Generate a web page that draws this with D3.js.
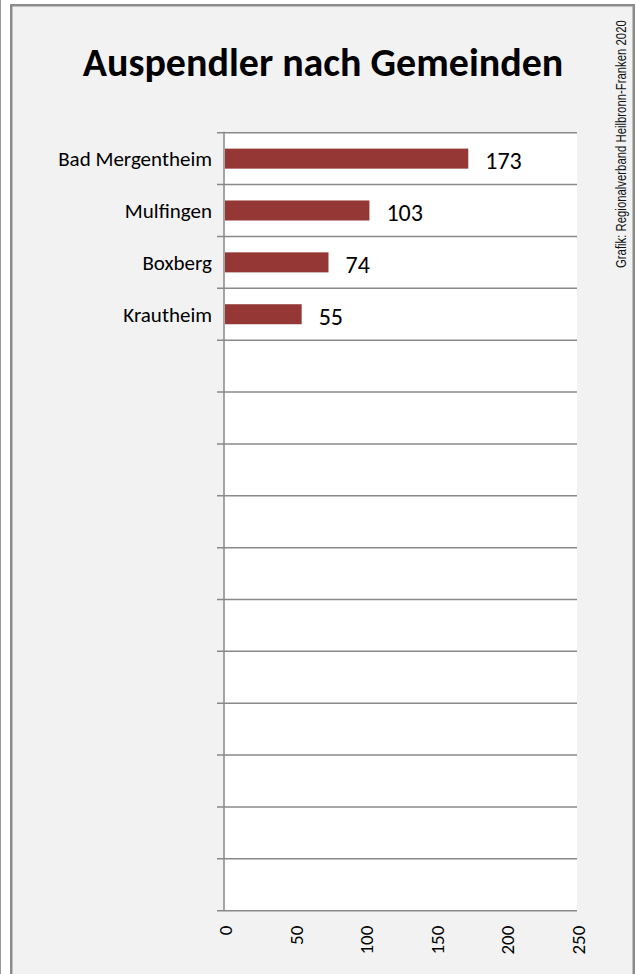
<!DOCTYPE html>
<html>
<head>
<meta charset="utf-8">
<script src="https://cdn.jsdelivr.net/npm/d3@7"></script>
<style>
  body { margin: 0; background: #fff; }
  svg { display: block; }
</style>
</head>
<body>
<div id="chart"></div>
<script>
// Auspendler nach Gemeinden - horizontal bars, 15 slots (only 4 used)

const gemeinden = ["Bad Mergentheim", "Mulfingen", "Boxberg", "Krautheim"];
const auspendler = [173, 103, 74, 55];
const slotCount = 15;
const xTicks = [0, 50, 100, 150, 200, 250];
const title = "Auspendler nach Gemeinden";
const quelle = "Grafik: Regionalverband Heilbronn-Franken 2020";

const width = 636;
const height = 974;
const plot = { left: 224, right: 577, top: 132.7, bottom: 910.7 };
const gridColor = "#898989";
const barColor = "#953735";
const font = "Carlito, Lato, 'Open Sans', sans-serif";

const svg = d3.select("#chart").append("svg")
  .attr("width", width)
  .attr("height", height);

// outer page edge + chart frame
svg.append("line")
  .attr("x1", 0.5).attr("x2", 0.5)
  .attr("y1", 0).attr("y2", height)
  .attr("stroke", "#9a9a9a")
  .attr("stroke-width", 1);

svg.append("rect")
  .attr("x", 11.25).attr("y", 5.25)
  .attr("width", 622.5).attr("height", height + 20)
  .attr("fill", "#f2f2f2")
  .attr("stroke", "#8c8c8c")
  .attr("stroke-width", 2.5);

svg.append("text")
  .attr("x", 323).attr("y", 76)
  .attr("text-anchor", "middle")
  .attr("font-family", font)
  .attr("font-weight", "bold")
  .attr("font-size", 40)
  .attr("fill", "#000")
  .text(title);

// source note, squeezed to the narrow look of the original
const src = svg.append("text")
  .attr("font-family", "'Liberation Sans Narrow', 'Liberation Sans', Arial, sans-serif")
  .attr("font-size", 14)
  .attr("fill", "#111")
  .text(quelle);
const srcLen = src.node().getComputedTextLength();
src.attr("transform", `translate(626,268) rotate(-90) scale(${248 / srcLen},1)`);

const x = d3.scaleLinear()
  .domain([0, 250])
  .range([plot.left, plot.right]);

const slots = d3.range(slotCount);

const slot = d3.scaleBand()
  .domain(slots)
  .range([plot.top, plot.bottom]);

const y = d3.scaleBand()
  .domain(slots)
  .range([plot.top, plot.bottom])
  .paddingInner(0.614)
  .paddingOuter(0.307);

svg.append("rect")
  .attr("x", plot.left).attr("y", plot.top)
  .attr("width", plot.right - plot.left)
  .attr("height", plot.bottom - plot.top)
  .attr("fill", "#fff");

// horizontal gridlines at the slot borders (with small tick stubs left of the axis)
const borders = slots.map(i => slot(i)).concat([slot(slotCount - 1) + slot.bandwidth()]);

svg.append("g")
  .selectAll("line")
  .data(borders)
  .enter().append("line")
  .attr("x1", plot.left - 7)
  .attr("x2", plot.right)
  .attr("y1", d => d)
  .attr("y2", d => d)
  .attr("stroke", gridColor)
  .attr("stroke-width", 1.5);

svg.append("line")
  .attr("x1", plot.left).attr("x2", plot.left)
  .attr("y1", plot.top - 1).attr("y2", plot.bottom)
  .attr("stroke", gridColor)
  .attr("stroke-width", 1.5);

const rows = gemeinden.map((name, i) => ({ name, value: auspendler[i], slot: i }));

svg.append("g")
  .selectAll("rect")
  .data(rows)
  .enter().append("rect")
  .attr("x", x(0) + 1)
  .attr("y", d => y(d.slot))
  .attr("width", d => x(d.value) - x(0) - 1)
  .attr("height", y.bandwidth())
  .attr("fill", barColor);

svg.append("g")
  .selectAll("text")
  .data(rows)
  .enter().append("text")
  .attr("x", plot.left - 12)
  .attr("y", d => y(d.slot) + y.bandwidth() / 2 + 7.6)
  .attr("text-anchor", "end")
  .attr("font-family", font)
  .attr("font-size", 21)
  .attr("fill", "#000")
  .text(d => d.name);

svg.append("g")
  .selectAll("text")
  .data(rows)
  .enter().append("text")
  .attr("x", d => x(d.value) + 17)
  .attr("y", d => y(d.slot) + y.bandwidth() / 2 + 10.5)
  .attr("font-family", font)
  .attr("font-size", 24)
  .attr("fill", "#000")
  .text(d => d.value);

// x axis labels, rotated
const xAxis = svg.append("g")
  .attr("transform", `translate(0,${plot.bottom})`)
  .call(d3.axisBottom(x).tickValues(xTicks).tickSize(0).tickPadding(0));

xAxis.select(".domain").remove();
xAxis.selectAll("text")
  .attr("font-family", font)
  .attr("font-size", 19)
  .attr("fill", "#000")
  .attr("text-anchor", "end")
  .attr("dy", null)
  .attr("y", 0)
  .attr("x", 0)
  .attr("dominant-baseline", "central")
  .attr("transform", "translate(1,15) rotate(-90)");
</script>
</body>
</html>
